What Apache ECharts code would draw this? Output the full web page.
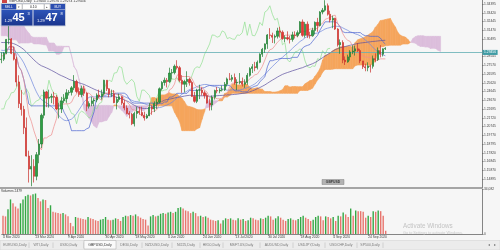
<!DOCTYPE html>
<html><head><meta charset="utf-8">
<script src="https://cdn.jsdelivr.net/npm/echarts@6/dist/echarts.min.js"></script>
<style>html,body{margin:0;padding:0;background:#f6f6f6;}#c{width:500px;height:250px;}</style>
</head><body><div id="c"></div>
<script>
// ---- history before the visible window (2 Dec 2019 - 3 Mar 2020), only feeds the indicators
const warmHigh = [1.2955,1.2985,1.3140,1.3165,1.3185,1.3185,1.3215,1.3240,1.3220,1.3514,1.3430,1.3360,1.3145,1.3115,1.3060,1.3045,1.2965,1.3020,1.3120,1.3165,1.3285,
1.3285,1.3160,1.3180,1.3215,1.3150,1.3120,1.3110,1.3065,1.3050,1.3070,1.3090,1.3110,1.3035,1.3080,1.3160,1.3170,1.3130,1.3100,1.3080,1.3040,1.3110,1.3210,
1.3210,1.3050,1.3060,1.3015,1.2955,1.2935,1.2975,1.2990,1.3070,1.3070,1.3055,1.3030,1.3020,1.2960,1.2980,1.2975,1.3000,1.3000,1.2975,1.2890,1.2820,1.2850];
const warmLow = [1.2900,1.2900,1.2950,1.3105,1.3120,1.3125,1.3145,1.3120,1.3110,1.3180,1.3310,1.3100,1.3065,1.2990,1.2990,1.2905,1.2915,1.2935,1.3000,1.3060,1.3110,
1.3120,1.3050,1.3070,1.3120,1.3070,1.3040,1.3010,1.2960,1.2960,1.2990,1.3030,1.3000,1.2990,1.2970,1.3045,1.3110,1.3050,1.3040,1.2990,1.2960,1.2990,1.3090,
1.2990,1.2970,1.2960,1.2920,1.2870,1.2870,1.2900,1.2930,1.2965,1.3000,1.2990,1.2960,1.2910,1.2850,1.2865,1.2890,1.2910,1.2900,1.2860,1.2725,1.2725,1.2730];
const warmClose = [1.2935,1.2950,1.3135,1.3150,1.3150,1.3170,1.3190,1.3210,1.3180,1.3330,1.3330,1.3110,1.3080,1.3030,1.3010,1.2945,1.2945,1.3005,1.3075,1.3110,1.3260,
1.3150,1.3080,1.3160,1.3130,1.3100,1.3060,1.3060,1.2990,1.3020,1.3040,1.3070,1.3010,1.3010,1.3050,1.3150,1.3120,1.3070,1.3070,1.3000,1.3010,1.3100,1.3200,
1.3000,1.3030,1.2990,1.2940,1.2895,1.2915,1.2950,1.2970,1.3045,1.3045,1.3010,1.2990,1.2950,1.2880,1.2960,1.2920,1.2990,1.2920,1.2880,1.2820,1.2760,1.2820];

// ---- visible daily bars GBPUSD, 4 Mar 2020 - 5 Oct 2020
const openP = [1.2820,1.2825,1.2890,1.3045,1.3050,1.2890,1.2825,1.2570,1.2330,1.2265,1.2060,1.1745,1.1600,1.1630,1.1520,1.1760,1.1880,1.2200,1.2460,1.2390,
1.2400,1.2410,1.2400,1.2270,1.2270,1.2360,1.2385,1.2450,1.2455,1.2505,1.2575,1.2465,1.2430,1.2495,1.2445,1.2300,1.2330,1.2360,1.2370,1.2425,1.2410,1.2440,
1.2590,1.2495,1.2440,1.2440,1.2340,1.2375,1.2405,1.2335,1.2280,1.2220,1.2210,1.2105,1.2220,1.2245,1.2230,1.2200,1.2170,1.2195,1.2290,1.2270,1.2330,
1.2345,1.2495,1.2565,1.2590,1.2575,1.2670,1.2675,1.2745,1.2730,1.2590,1.2545,1.2575,1.2600,1.2565,1.2410,1.2355,1.2480,1.2480,1.2450,1.2420,1.2335,1.2315,
1.2400,1.2475,1.2470,1.2480,1.2485,1.2545,1.2605,1.2600,1.2620,1.2560,1.2565,1.2575,1.2545,1.2565,1.2645,1.2720,1.2740,1.2730,1.2790,1.2880,1.2935,1.2995,1.3095,
1.3090,1.3070,1.3080,1.3140,1.3125,1.3055,1.3065,1.3050,1.3045,1.3095,1.3090,1.3120,1.3240,1.3090,1.3215,1.3090,1.3085,1.3145,1.3235,1.3200,1.3350,
1.3370,1.3420,1.3325,1.3260,1.3280,1.3160,1.2985,1.3010,1.2815,1.2795,1.2850,1.2905,1.2915,1.2940,1.2920,1.2805,1.2740,1.2730,1.2750,1.2745,1.2830,1.2820,
1.2920,1.2880,1.2940];
const highP = [1.2900,1.2905,1.3050,1.3200,1.3060,1.2960,1.2850,1.2645,1.2480,1.2305,1.2175,1.1805,1.1755,1.1710,1.1790,1.1935,1.2220,1.2485,1.2470,1.2485,
1.2440,1.2460,1.2425,1.2340,1.2405,1.2435,1.2490,1.2480,1.2525,1.2647,1.2595,1.2510,1.2530,1.2530,1.2455,1.2355,1.2405,1.2390,1.2445,1.2485,1.2485,1.2595,
1.2590,1.2500,1.2485,1.2480,1.2405,1.2440,1.2415,1.2370,1.2310,1.2245,1.2225,1.2240,1.2295,1.2295,1.2295,1.2240,1.2215,1.2335,1.2310,1.2355,1.2385,
1.2510,1.2580,1.2620,1.2615,1.2730,1.2715,1.2765,1.2813,1.2750,1.2645,1.2595,1.2690,1.2620,1.2585,1.2460,1.2495,1.2540,1.2510,1.2475,1.2445,1.2385,1.2420,
1.2485,1.2515,1.2500,1.2530,1.2570,1.2620,1.2670,1.2650,1.2665,1.2600,1.2670,1.2620,1.2600,1.2670,1.2735,1.2770,1.2795,1.2810,1.2890,1.2950,1.3000,1.3105,1.3170,
1.3120,1.3100,1.3175,1.3185,1.3145,1.3090,1.3135,1.3085,1.3130,1.3135,1.3145,1.3250,1.3267,1.3240,1.3245,1.3130,1.3175,1.3245,1.3285,1.3360,1.3395,
1.3482,1.3445,1.3365,1.3310,1.3285,1.3170,1.3045,1.3035,1.2855,1.2875,1.2925,1.2980,1.2975,1.3005,1.2940,1.2805,1.2775,1.2790,1.2765,1.2865,1.2890,1.2955,
1.2980,1.2945,1.29576];
const lowP = [1.2780,1.2805,1.2880,1.2990,1.2880,1.2810,1.2520,1.2280,1.2195,1.1990,1.1740,1.1450,1.1409,1.1450,1.1475,1.1665,1.1835,1.2165,1.2290,1.2285,
1.2335,1.2320,1.2255,1.2165,1.2225,1.2335,1.2340,1.2420,1.2420,1.2480,1.2445,1.2405,1.2400,1.2415,1.2245,1.2275,1.2300,1.2300,1.2345,1.2390,1.2375,1.2420,
1.2470,1.2400,1.2405,1.2335,1.2265,1.2350,1.2315,1.2255,1.2210,1.2165,1.2090,1.2075,1.2165,1.2205,1.2190,1.2140,1.2160,1.2190,1.2205,1.2235,1.2270,
1.2330,1.2475,1.2530,1.2510,1.2560,1.2600,1.2655,1.2710,1.2570,1.2450,1.2455,1.2515,1.2530,1.2405,1.2340,1.2335,1.2380,1.2420,1.2385,1.2330,1.2252,1.2255,
1.2375,1.2445,1.2445,1.2465,1.2470,1.2520,1.2590,1.2575,1.2540,1.2480,1.2545,1.2520,1.2505,1.2540,1.2630,1.2670,1.2690,1.2710,1.2780,1.2850,1.2895,1.2940,1.3050,
1.3005,1.3000,1.3055,1.3065,1.3040,1.3015,1.3035,1.3000,1.3020,1.3055,1.3070,1.3105,1.3075,1.3065,1.3060,1.3055,1.3075,1.3100,1.3130,1.3190,1.3325,
1.3355,1.3310,1.3235,1.3170,1.3150,1.2965,1.2885,1.2780,1.2760,1.2785,1.2810,1.2880,1.2865,1.2905,1.2780,1.2715,1.2690,1.2690,1.2676,1.2720,1.2790,1.2805,
1.2845,1.2855,1.29274];
const closeP = [1.2825,1.2890,1.3045,1.3050,1.2890,1.2825,1.2570,1.2330,1.2265,1.2060,1.1745,1.1600,1.1630,1.1520,1.1760,1.1880,1.2200,1.2460,1.2390,1.2400,
1.2410,1.2400,1.2270,1.2270,1.2360,1.2385,1.2450,1.2455,1.2505,1.2575,1.2465,1.2430,1.2495,1.2445,1.2300,1.2330,1.2360,1.2370,1.2425,1.2410,1.2440,1.2590,
1.2495,1.2440,1.2440,1.2340,1.2375,1.2405,1.2335,1.2280,1.2220,1.2210,1.2105,1.2220,1.2245,1.2230,1.2200,1.2170,1.2195,1.2290,1.2270,1.2330,1.2345,
1.2495,1.2565,1.2590,1.2575,1.2670,1.2675,1.2745,1.2730,1.2590,1.2545,1.2575,1.2600,1.2565,1.2410,1.2355,1.2480,1.2480,1.2450,1.2420,1.2335,1.2315,1.2400,
1.2475,1.2470,1.2480,1.2485,1.2545,1.2605,1.2600,1.2620,1.2560,1.2565,1.2575,1.2545,1.2565,1.2645,1.2720,1.2740,1.2730,1.2790,1.2880,1.2935,1.2995,1.3095,1.3090,
1.3070,1.3080,1.3140,1.3125,1.3055,1.3065,1.3050,1.3045,1.3095,1.3090,1.3120,1.3240,1.3090,1.3215,1.3090,1.3085,1.3145,1.3235,1.3200,1.3350,1.3370,
1.3420,1.3325,1.3260,1.3280,1.3160,1.2985,1.3010,1.2815,1.2795,1.2850,1.2905,1.2915,1.2940,1.2920,1.2805,1.2740,1.2730,1.2750,1.2745,1.2830,1.2820,1.2920,
1.2880,1.2940,1.29456];
const volumes = [14000,13500,19000,26500,23500,21000,19500,23500,26500,29000,30000,29500,30500,31000,27500,25000,26500,26000,20000,22000,
17000,16500,16000,15500,16000,15000,13500,8500,6000,13000,12500,12000,11500,11000,13000,12000,11500,10500,10000,11000,11500,13000,
11000,10500,11000,12000,11500,10000,13000,14000,13500,14500,14000,15000,13500,12500,11500,11000,6500,13500,14500,13500,14000,
15500,16000,15500,16500,17000,16000,17000,20000,20500,19500,18000,17500,16000,17000,16000,13500,14000,13000,13500,12500,11000,10500,
10000,10500,8000,10500,12000,11500,12000,11000,10500,12000,11000,11500,10000,10500,12500,12000,11000,10500,12000,11500,12500,14000,13500,
11000,12000,13500,12500,11000,10000,11500,12000,11000,10500,11500,13000,14000,12500,11500,10000,11000,13000,14000,13500,10500,
13500,13000,12000,13000,10000,14000,13500,16500,15000,13000,19500,14000,18000,17500,17500,17000,12500,14000,13000,17500,17000,18000,
17500,14000,2479];

const tickIndex = [0,13,26,41,53,66,80,93,106,119,132,146];
const tickLabels = ['4 Mar 2020','23 Mar 2020','9 Apr 2020','30 Apr 2020','18 May 2020','4 Jun 2020','24 Jun 2020','13 Jul 2020','30 Jul 2020','18 Aug 2020','4 Sep 2020','24 Sep 2020'];
const priceTicks = [1.34395,1.33420,1.32445,1.31470,1.30495,1.28545,1.27570,1.26595,1.25620,1.24645,1.23670,1.22695,1.21720,1.20745,1.19770,1.18795,1.17820,1.16845,1.15870,1.14895];
const volumeMax = 34082;
const currentPrice = 1.29456;
const tabNames = ['EURUSD,Daily','WTI,Daily','US30,Daily','GBPUSD,Daily','DE30,Daily','NZDUSD,Daily','NI225,Daily','HK50,Daily','MSFT.US,Daily','AUDUSD,Daily','USDJPY,Daily','USDCHF,Daily','SP500,Daily'];
const tabBounds = [1,29,53,84,116,142,172,200,223,260,293,325,357,383];

// ---- indicators (Ichimoku 7/22/44, SMA 20/50)
const TENKAN=7, KIJUN=22, SENKOU=44, SHIFT=22;
const H = warmHigh.concat(highP), L = warmLow.concat(lowP), C = warmClose.concat(closeP);
const W = warmHigh.length, N = closeP.length, SLOTS = 192;
function mid(end, p){let s=Math.max(0,end-p+1),hi=-Infinity,lo=Infinity;for(let k=s;k<=end;k++){if(H[k]>hi)hi=H[k];if(L[k]<lo)lo=L[k];}return (hi+lo)/2;}
function sma(end,p){if(end-p+1<0)return null;let s=0;for(let k=end-p+1;k<=end;k++)s+=C[k];return s/p;}
const tenkan=[],kijun=[],ma20=[],ma50=[];
for(let i=0;i<N;i++){const g=W+i;tenkan.push(mid(g,TENKAN));kijun.push(mid(g,KIJUN));ma20.push(sma(g,20));ma50.push(sma(g,50));}
const spanA=[],spanB=[];
for(let j=0;j<N+SHIFT;j++){const g=W+j-SHIFT;spanA.push((mid(g,TENKAN)+mid(g,KIJUN))/2);spanB.push(mid(g,SENKOU));}
const chikou=[];for(let j=0;j<N-SHIFT;j++)chikou.push(closeP[j+SHIFT]);
const cloudData=[];for(let j=0;j<spanA.length-1;j++)cloudData.push([j,spanA[j],spanB[j],spanA[j+1],spanB[j+1]]);

const cats=[];for(let i=0;i<SLOTS;i++)cats.push(String(i));
const candles=openP.map((o,i)=>[o,closeP[i],lowP[i],highP[i]]);
const volData=volumes.map((v,i)=>({value:v,itemStyle:{color:(i>0&&v>volumes[i-1])?'#34a845':'#e8756d'}}));

const UP='#f5a55c', DN='#dcbedc';
function cloudItem(params, api){
  const j=api.value(0),a0=api.value(1),b0=api.value(2),a1=api.value(3),b1=api.value(4);
  const pA0=api.coord([j,a0]),pB0=api.coord([j,b0]),pA1=api.coord([j+1,a1]),pB1=api.coord([j+1,b1]);
  const d0=a0-b0,d1=a1-b1,ch=[];
  const poly=(pts,col)=>({type:'polygon',shape:{points:pts},style:{fill:col,stroke:col,lineWidth:0.6}});
  if(d0*d1>=0){ch.push(poly([pA0,pA1,pB1,pB0],(d0+d1)>=0?UP:DN));}
  else{const t=d0/(d0-d1);const X=[pA0[0]+t*(pA1[0]-pA0[0]),pA0[1]+t*(pA1[1]-pA0[1])];
    ch.push(poly([pA0,X,pB0],d0>0?UP:DN));ch.push(poly([X,pA1,pB1],d1>0?UP:DN));}
  return {type:'group',children:ch};
}
const FF='Liberation Sans, Arial, sans-serif';
const lineS=(name,data,color,w,z)=>({name,type:'line',data,showSymbol:false,symbol:'none',z:z||3,lineStyle:{color,width:w},silent:true});

// ---- graphics: title, one-click trading panel, tabs, labels
const g=[];
const txt=(t,x,y,size,fill,opt)=>Object.assign({type:'text',silent:true,z:100,style:Object.assign({text:t,x,y,fontSize:size,fontFamily:FF,fill,align:'left',verticalAlign:'middle'},opt||{})});
const rect=(x,y,w,h,fill,stroke,z)=>({type:'rect',silent:true,z:z||99,shape:{x,y,width:w,height:h},style:{fill,stroke:stroke||null,lineWidth:0.4}});
g.push(rect(2,0,5,3,'#c44'));
g.push(txt('GBPUSD,Daily  1.29400 1.29576 1.29274 1.29456',9,1.3,3.4,'#333'));
const grad={type:'linear',x:0,y:0,x2:0,y2:1,colorStops:[{offset:0,color:'#2d54b8'},{offset:1,color:'#1a358e'}]};
g.push(rect(1,3.5,64.5,22.5,'#d6dbe8','#9aa3bb',98));
g.push(rect(1.5,4,14.5,5.5,'#2b4db0'));g.push(txt('SELL',8.75,6.8,3.2,'#fff',{align:'center'}));
g.push(rect(16.5,4,5.5,5.5,'#fff','#999'));g.push(txt('▾',19.25,6.8,3.4,'#555',{align:'center'}));
g.push(rect(22.5,4,21.5,5.5,'#fff','#999'));g.push(txt('0.10',33.25,6.8,3.4,'#222',{align:'center'}));
g.push(rect(44.5,4,5.5,5.5,'#fff','#999'));g.push(txt('▴',47.25,6.8,3.4,'#555',{align:'center'}));
g.push(rect(50.5,4,14.5,5.5,'#2b4db0'));g.push(txt('BUY',57.75,6.8,3.2,'#fff',{align:'center'}));
g.push(rect(1.5,10,31,15.5,grad));g.push(rect(33.5,10,31.5,15.5,grad));
g.push(txt('1.29',4.5,21,4,'#fff'));g.push(txt('45',12.5,18.2,11,'#fff',{fontWeight:'bold'}));g.push(txt('3',27.5,14,4,'#fff'));
g.push(txt('1.29',37,21,4,'#fff'));g.push(txt('47',45.5,18.2,11,'#fff',{fontWeight:'bold'}));g.push(txt('8',60.5,14,4,'#fff'));
g.push(txt('Volumes 2479',1,190.8,3.3,'#333'));
g.push(rect(322,179.5,22,5,'#b3b3b3','#707070'));g.push(txt('GBPUSD',333,182.1,3.4,'#3a3a3a',{align:'center',fontWeight:'bold'}));
g.push(txt('Activate Windows',403,226,6.3,'#c3c3c3'));
g.push(txt('Go to Settings to activate Windows.',403,233,3.8,'#cacaca'));
g.push(rect(0,240.5,500,9.5,'#ececec','#c8c8c8',97));
for(let i=0;i<tabNames.length;i++){
  const x0=tabBounds[i],x1=tabBounds[i+1];
  if(tabNames[i]==='GBPUSD,Daily'){g.push(rect(x0,240.5,x1-x0,8.5,'#fafafa','#9a9a9a'));}
  else{g.push({type:'line',silent:true,z:99,shape:{x1:x1,y1:242.5,x2:x1,y2:248},style:{stroke:'#b5b5b5',lineWidth:0.5}});}
  g.push(txt(tabNames[i],(x0+x1)/2,244.8,3.5,tabNames[i]==='GBPUSD,Daily'?'#333':'#7a7a7a',{align:'center'}));
}
g.push(txt('◂',488,245,3.6,'#777'));g.push(txt('▸',494,245,3.6,'#777'));

const chart=echarts.init(document.getElementById('c'),null,{renderer:'canvas'});
chart.setOption({
  animation:false,backgroundColor:'#f6f6f6',
  textStyle:{fontFamily:FF},
  grid:[{left:0,right:18,top:0,height:187.75},{left:0,right:18,top:189.5,height:44.5}],
  xAxis:[
    {type:'category',gridIndex:0,data:cats,boundaryGap:true,axisLabel:{show:false},axisTick:{show:false},
     axisLine:{show:true,lineStyle:{color:'#8a8a8a',width:1.6}},splitLine:{show:false}},
    {type:'category',gridIndex:1,data:cats,boundaryGap:true,
     axisLine:{show:true,lineStyle:{color:'#555',width:0.7}},
     axisTick:{show:true,alignWithLabel:true,length:1.8,lineStyle:{color:'#555',width:0.5},interval:(i)=>tickIndex.indexOf(i)>=0},
     axisLabel:{show:true,interval:(i)=>tickIndex.indexOf(i)>=0,formatter:(v,i)=>{const k=tickIndex.indexOf(Number(v));return k>=0?tickLabels[k]:'';},
       align:'left',fontSize:3.3,color:'#444',margin:1.6,fontFamily:FF},splitLine:{show:false}}
  ],
  yAxis:[
    {type:'value',gridIndex:0,position:'right',min:1.1392,max:1.34841,scale:true,
     axisLine:{show:true,lineStyle:{color:'#555',width:0.7}},
     axisTick:{show:true,length:1.8,lineStyle:{color:'#555',width:0.5},customValues:priceTicks},
     axisLabel:{show:true,customValues:priceTicks,formatter:(v)=>Number(v).toFixed(5),fontSize:3.3,color:'#444',margin:2,fontFamily:FF},
     splitLine:{show:false}},
    {type:'value',gridIndex:1,position:'right',min:0,max:volumeMax,interval:volumeMax,
     axisLine:{show:true,lineStyle:{color:'#555',width:0.7}},
     axisTick:{show:true,length:1.8,lineStyle:{color:'#555',width:0.5}},
     axisLabel:{show:true,fontSize:3.3,color:'#444',margin:2,fontFamily:FF},splitLine:{show:false}}
  ],
  series:[
    {type:'custom',name:'kumo',renderItem:cloudItem,data:cloudData,xAxisIndex:0,yAxisIndex:0,encode:{x:0,y:[1,2,3,4]},z:1,silent:true,clip:true},
    lineS('chikou',chikou,'#8fdf8f',0.7,2),
    lineS('ma50',ma50,'#5a4d9e',0.7,2),
    lineS('ma20',ma20,'#6f86dc',0.7,2),
    lineS('kijun',kijun,'#4b63d0',0.7,2),
    lineS('tenkan',tenkan,'#ee8c8c',0.7,2),
    {type:'candlestick',name:'GBPUSD',data:candles,xAxisIndex:0,yAxisIndex:0,barWidth:1.7,z:5,silent:true,
     itemStyle:{color:'#2da043',color0:'#e53935',borderColor:'#1f7d32',borderColor0:'#c9302c',borderWidth:0.7},
     markLine:{symbol:'none',silent:true,animation:false,data:[{yAxis:currentPrice}],
       lineStyle:{color:'#62aeb4',width:0.8,type:'solid'},
       label:{show:true,position:'end',distance:0.5,formatter:()=>currentPrice.toFixed(5),backgroundColor:'#3f9ca5',color:'#fff',fontSize:3.3,padding:[1,1.6],fontFamily:FF}}},
    {type:'bar',name:'Volumes',data:volData,xAxisIndex:1,yAxisIndex:1,barWidth:1.4,silent:true}
  ],
  graphic:g
});
</script></body></html>
